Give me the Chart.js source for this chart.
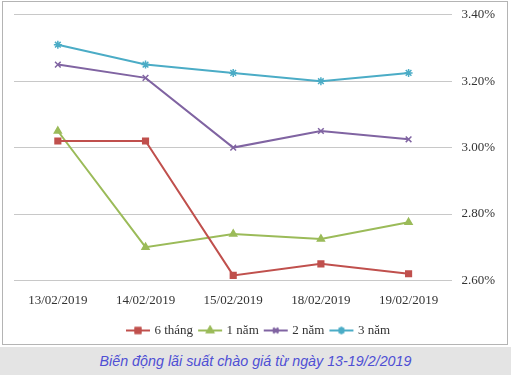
<!DOCTYPE html>
<html>
<head>
<meta charset="utf-8">
<script src="https://cdn.jsdelivr.net/npm/chart.js@4"></script>
<style>
  body { margin: 0; background: #fff; width: 511px; height: 375px; overflow: hidden; position: relative; }
  #box { position: absolute; left: 2px; top: 1px; width: 504px; height: 342px; border: 1px solid #b4b4b4; overflow: hidden; }
  #chart1 { position: absolute; left: 0; top: -4px; }
  #caption { position: absolute; left: 0; top: 347px; width: 511px; height: 28px; background: #e4e4e4;
    font-family: "Liberation Sans", Arial, sans-serif; font-style: italic; font-size: 14.3px; color: #4f4fd4;
    text-align: center; line-height: 29px; }
</style>
</head>
<body>
<div id="box"><canvas id="chart1" width="504" height="349"></canvas></div>
<div id="caption">Biến động lãi suất chào giá từ ngày 13-19/2/2019</div>
<script>
// dữ liệu
const dates = ['13/02/2019', '14/02/2019', '15/02/2019', '18/02/2019', '19/02/2019'];
const seriesNames = ['6 tháng', '1 năm', '2 năm', '3 năm'];
const sixMonths = [3.02, 3.02, 2.615, 2.65, 2.62];
const oneYear = [3.05, 2.70, 2.74, 2.725, 2.775];
const twoYears = [3.25, 3.21, 3.00, 3.05, 3.025];
const threeYears = [3.31, 3.25, 3.225, 3.20, 3.225];
const yTicks = [2.6, 2.8, 3.0, 3.2, 3.4];

const colors = ['#c0504d', '#9bbb59', '#8064a2', '#4bacc6'];
const markers = ['rect', 'triangle', 'crossRot', 'star'];

// legend icon: line + marker
function makeIcon(color, marker) {
    const c = document.createElement('canvas');
    c.width = 28; c.height = 12;
    const g = c.getContext('2d');
    g.strokeStyle = color; g.fillStyle = color; g.lineWidth = 2;
    g.beginPath(); g.moveTo(2, 6); g.lineTo(26, 6); g.stroke();
    Chart.helpers.drawPoint(g, {pointStyle: marker, radius: 3.5, rotation: 0, borderWidth: 1.5}, 14, 6);
    g.fill(); g.stroke();
    return c;
}

const allData = [sixMonths, oneYear, twoYears, threeYears];
const datasets = allData.map((d, i) => ({
    label: seriesNames[i],
    data: d,
    borderColor: colors[i],
    backgroundColor: colors[i],
    borderWidth: 2,
    pointStyle: markers[i],
    pointRadius: 4,
    pointBorderWidth: 1.5,
    tension: 0
}));

const icons = colors.map((c, i) => makeIcon(c, markers[i]));
const serif = 'Liberation Serif, Times New Roman, serif';

const ctx = document.getElementById('chart1').getContext('2d');
new Chart(ctx, {
    type: 'line',
    data: { labels: dates, datasets: datasets },
    options: {
        responsive: false,
        animation: false,
        layout: { padding: { left: 11, right: 3, top: 0, bottom: 0 } },
        plugins: {
            tooltip: { enabled: false },
            legend: {
                position: 'bottom',
                labels: {
                    usePointStyle: true,
                    pointStyleWidth: 20,
                    boxHeight: 13,
                    padding: 7,
                    color: '#333',
                    font: { family: serif, size: 13 },
                    generateLabels: function(chart) {
                        const items = Chart.defaults.plugins.legend.labels.generateLabels(chart);
                        items.forEach((it, i) => { it.pointStyle = icons[i]; });
                        return items;
                    }
                }
            }
        },
        scales: {
            x: {
                offset: true,
                grid: { display: false },
                border: { display: false },
                afterFit: axis => { axis.height += 5; },
                ticks: { color: '#333', font: { family: serif, size: 13 }, maxRotation: 0, padding: 4 }
            },
            y: {
                position: 'right',
                min: 2.6,
                max: 3.4,
                afterBuildTicks: axis => { axis.ticks = yTicks.map(v => ({ value: v })); },
                grid: { color: '#c8c8c8', drawTicks: false, lineWidth: 1 },
                border: { display: false },
                ticks: {
                    color: '#333',
                    padding: 9,
                    font: { family: serif, size: 13 },
                    callback: v => v.toFixed(2) + '%'
                }
            }
        }
    }
});
</script>
</body>
</html>
